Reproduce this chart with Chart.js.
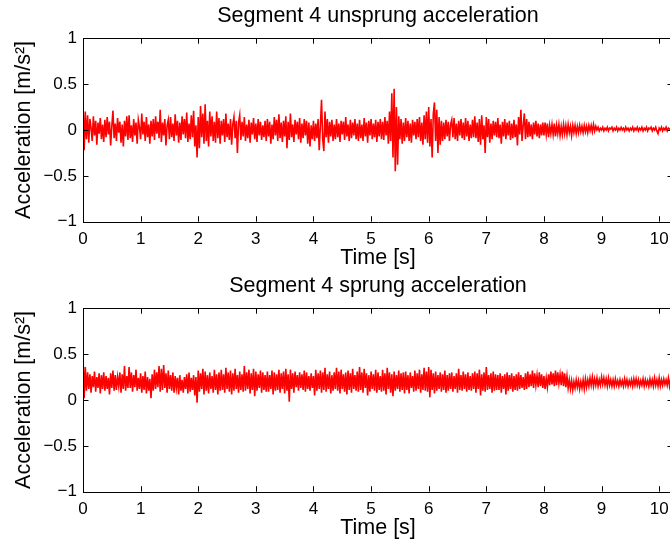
<!DOCTYPE html>
<html>
<head>
<meta charset="utf-8">
<script src="https://cdn.jsdelivr.net/npm/chart.js@4.4.1/dist/chart.umd.min.js"></script>
<style>
  body { margin: 0; background: #fff; overflow: hidden; width: 670px; height: 543px; }
  canvas { position: absolute; left: 0; }
  #topChart { top: 0; }
  #bottomChart { top: 270px; }
</style>
</head>
<body>
<canvas id="topChart" width="700" height="270"></canvas>
<canvas id="bottomChart" width="700" height="273"></canvas>
<script>
// sample interval of the recorded signals [s]
const DT = 0.02;

const xTicks = [0, 1, 2, 3, 4, 5, 6, 7, 8, 9, 10];
const yTicks = [-1, -0.5, 0, 0.5, 1];

// segment 4 unsprung acceleration (20 samples per 0.4 s)
const unsprung = [
    0.30, -0.22, 0.20, -0.10, 0.16, -0.14, 0.12, 0.02, -0.12, 0.15, -0.06, 0.10, -0.16, 0.08, -0.04, 0.13, -0.10, 0.06, -0.13, 0.11,
    -0.08, 0.14, -0.05, 0.09, -0.17, 0.04, 0.21, -0.09, 0.07, -0.12, 0.13, -0.03, 0.09, -0.14, 0.06, -0.18, 0.10, -0.07, 0.15, -0.11,
    0.16, -0.09, 0.05, -0.13, 0.12, -0.06, 0.08, -0.15, 0.11, 0.03, -0.10, 0.18, -0.05, 0.09, -0.12, 0.14, -0.08, 0.06, -0.15, 0.10,
    -0.07, 0.12, -0.11, 0.15, -0.04, 0.09, -0.09, 0.22, -0.13, 0.08, -0.06, 0.12, -0.17, 0.05, 0.11, -0.10, 0.14, -0.08, 0.07, -0.12,
    0.17, -0.06, 0.10, -0.14, 0.08, -0.11, 0.15, -0.05, 0.12, -0.09, 0.19, -0.13, 0.07, -0.10, 0.16, -0.08, 0.21, -0.18, 0.05, -0.30,
    0.14, -0.20, 0.26, -0.08, 0.18, -0.15, 0.28, -0.12, 0.10, -0.18, 0.20, -0.07, 0.15, -0.12, 0.09, -0.14, 0.20, -0.09, 0.13, -0.15,
    0.10, -0.06, 0.12, -0.13, 0.18, -0.08, 0.07, -0.11, 0.12, -0.16, 0.06, 0.14, -0.09, 0.10, -0.25, 0.08, 0.16, -0.11, 0.09, -0.07,
    0.14, -0.12, 0.06, -0.09, 0.11, -0.14, 0.08, -0.05, 0.13, -0.10, 0.07, -0.13, 0.12, -0.06, 0.09, -0.11, 0.05, -0.08, 0.10, -0.12,
    0.12, -0.07, 0.09, -0.15, 0.06, -0.10, 0.14, -0.06, 0.11, -0.12, 0.17, -0.09, 0.08, -0.13, 0.10, -0.07, 0.15, -0.20, 0.09, -0.11,
    0.18, -0.08, 0.06, -0.13, 0.11, -0.05, 0.09, -0.10, 0.13, -0.14, 0.07, -0.09, 0.12, -0.06, 0.10, -0.15, 0.08, -0.18, 0.05, -0.10,
    0.10, -0.12, 0.07, -0.09, 0.12, -0.22, 0.05, 0.33, -0.10, -0.23, 0.20, -0.08, 0.12, -0.14, 0.09, -0.07, 0.11, -0.12, 0.06, -0.10,
    0.12, -0.08, 0.07, -0.13, 0.10, -0.05, 0.09, -0.11, 0.14, -0.07, 0.06, -0.12, 0.11, -0.09, 0.08, -0.06, 0.12, -0.10, 0.07, -0.12,
    0.11, -0.09, 0.06, -0.12, 0.13, -0.07, 0.08, -0.14, 0.10, -0.06, 0.12, -0.10, 0.07, -0.08, 0.11, -0.13, 0.09, -0.07, 0.12, -0.10,
    0.09, -0.11, 0.14, -0.06, 0.10, -0.15, 0.20, -0.12, 0.40, -0.30, 0.45, -0.45, 0.25, -0.38, 0.15, -0.10, 0.12, -0.15, 0.08, -0.12,
    0.13, -0.08, 0.10, -0.12, 0.07, -0.14, 0.11, -0.06, 0.09, -0.10, 0.12, -0.08, 0.14, -0.12, 0.08, -0.16, 0.16, -0.10, 0.20, -0.14,
    0.25, -0.18, 0.12, -0.30, 0.18, 0.30, -0.12, 0.22, -0.25, 0.14, -0.16, 0.10, -0.12, 0.08, -0.10, 0.11, -0.07, 0.09, -0.12, 0.06,
    0.11, -0.08, 0.13, -0.10, 0.07, -0.12, 0.10, -0.06, 0.12, -0.09, 0.08, -0.11, 0.13, -0.07, 0.10, -0.12, 0.06, -0.09, 0.11, -0.08,
    0.15, -0.09, 0.08, -0.13, 0.12, -0.16, 0.16, -0.10, 0.05, -0.25, 0.14, -0.08, 0.12, -0.14, 0.07, -0.10, 0.10, -0.06, 0.09, -0.08,
    0.13, -0.09, 0.06, -0.15, 0.09, -0.07, 0.12, -0.10, 0.08, -0.06, 0.10, -0.11, 0.07, -0.09, 0.11, -0.08, 0.06, -0.17, 0.14, -0.05,
    0.22, -0.12, 0.05, 0.18, -0.10, 0.12, -0.08, 0.09, -0.07, 0.06, -0.10, 0.08, -0.05, 0.10, -0.07, 0.07, -0.09, 0.06, -0.06, 0.08,
    -0.06, 0.08, -0.05, 0.07, -0.08, 0.05, -0.04, 0.06, -0.05, 0.07, -0.07, 0.05, -0.04, 0.06, -0.06, 0.04, -0.05, 0.06, -0.04, 0.05,
    -0.05, 0.06, -0.03, 0.04, -0.06, 0.05, -0.03, 0.05, -0.04, 0.04, -0.03, 0.05, -0.02, 0.04, -0.03, 0.05, -0.02, 0.04, -0.03, 0.05,
    -0.01, 0.05, -0.02, 0.06, -0.01, 0.04, 0.00, 0.03, -0.01, 0.02, 0.00, 0.03, -0.01, 0.02, 0.00, 0.03, -0.01, 0.02, 0.01, 0.03,
    -0.01, 0.02, 0.00, 0.03, -0.01, 0.02, 0.00, 0.03, 0.00, 0.02, -0.01, 0.03, 0.00, 0.02, -0.01, 0.02, 0.00, 0.03, -0.01, 0.02,
    0.00, 0.03, -0.01, 0.02, 0.00, 0.03, -0.01, 0.02, 0.00, 0.03, -0.01, 0.02, 0.01, 0.03, -0.01, 0.02, 0.00, 0.03, -0.01, -0.04,
    0.02, 0.00, 0.03, -0.01, 0.02, 0.00, 0.03, -0.01, 0.02, 0.01, 0.02, 0.00
];

// segment 4 sprung acceleration (20 samples per 0.4 s)
const sprung = [
    0.50, 0.02, 0.36, 0.10, 0.30, 0.12, 0.28, 0.08, 0.26, 0.14, 0.31, 0.09, 0.25, 0.13, 0.29, 0.07, 0.27, 0.12, 0.30, 0.10,
    0.26, 0.12, 0.24, 0.06, 0.29, 0.13, 0.32, 0.10, 0.27, 0.11, 0.25, 0.15, 0.30, 0.08, 0.28, 0.12, 0.37, 0.10, 0.26, 0.13,
    0.36, 0.13, 0.30, 0.09, 0.27, 0.14, 0.33, 0.10, 0.24, 0.12, 0.29, 0.08, 0.26, 0.11, 0.31, 0.07, 0.25, 0.10, 0.23, 0.02,
    0.28, 0.10, 0.33, 0.12, 0.30, 0.14, 0.37, 0.09, 0.34, 0.11, 0.38, 0.13, 0.29, 0.08, 0.32, 0.12, 0.27, 0.10, 0.30, 0.08,
    0.26, 0.13, 0.24, 0.06, 0.27, 0.10, 0.22, 0.08, 0.25, 0.12, 0.28, 0.07, 0.30, 0.09, 0.24, 0.11, 0.27, 0.05, 0.25, -0.03,
    0.32, 0.09, 0.29, 0.12, 0.34, 0.06, 0.31, 0.10, 0.27, 0.07, 0.30, 0.12, 0.26, 0.08, 0.33, 0.11, 0.28, 0.06, 0.30, 0.10,
    0.33, 0.11, 0.28, 0.08, 0.35, 0.12, 0.30, 0.09, 0.32, 0.06, 0.29, 0.10, 0.34, 0.12, 0.27, 0.08, 0.31, 0.11, 0.28, 0.09,
    0.37, 0.10, 0.30, 0.12, 0.33, 0.07, 0.29, 0.11, 0.34, 0.04, 0.31, 0.10, 0.28, 0.13, 0.32, 0.08, 0.30, 0.11, 0.27, 0.09,
    0.31, 0.09, 0.27, 0.12, 0.32, 0.06, 0.30, 0.10, 0.28, 0.11, 0.33, 0.08, 0.29, 0.12, 0.31, 0.07, 0.34, 0.10, 0.28, -0.02,
    0.33, 0.12, 0.29, 0.08, 0.31, 0.14, 0.27, 0.10, 0.30, 0.13, 0.28, 0.11, 0.32, 0.09, 0.30, 0.12, 0.26, 0.10, 0.29, 0.13,
    0.26, 0.05, 0.33, 0.10, 0.29, 0.12, 0.32, 0.08, 0.30, 0.11, 0.35, 0.09, 0.28, 0.12, 0.31, 0.07, 0.27, 0.10, 0.30, 0.12,
    0.35, 0.10, 0.31, 0.07, 0.33, 0.12, 0.28, 0.09, 0.30, 0.06, 0.32, 0.11, 0.29, 0.08, 0.34, 0.12, 0.27, 0.10, 0.31, 0.09,
    0.36, 0.11, 0.30, 0.08, 0.34, 0.13, 0.29, 0.05, 0.27, 0.09, 0.31, 0.12, 0.28, 0.10, 0.33, 0.08, 0.30, 0.11, 0.26, 0.09,
    0.33, 0.10, 0.29, 0.06, 0.35, 0.12, 0.30, 0.08, 0.28, 0.04, 0.31, 0.10, 0.27, 0.12, 0.32, 0.09, 0.29, 0.11, 0.30, 0.07,
    0.31, 0.11, 0.27, 0.07, 0.30, 0.13, 0.26, 0.09, 0.32, 0.10, 0.29, 0.12, 0.33, 0.08, 0.28, 0.11, 0.35, 0.10, 0.31, 0.09,
    0.36, 0.03, 0.33, 0.11, 0.29, 0.07, 0.31, 0.10, 0.27, 0.12, 0.30, 0.09, 0.28, 0.11, 0.32, 0.08, 0.27, 0.10, 0.29, 0.12,
    0.30, 0.09, 0.26, 0.12, 0.29, 0.08, 0.34, 0.11, 0.27, 0.10, 0.31, 0.12, 0.28, 0.09, 0.30, 0.11, 0.26, 0.10, 0.29, 0.12,
    0.31, 0.08, 0.29, 0.12, 0.33, 0.05, 0.28, 0.10, 0.30, 0.09, 0.36, 0.11, 0.27, 0.12, 0.29, 0.08, 0.31, 0.10, 0.28, 0.11,
    0.27, 0.11, 0.29, 0.08, 0.26, 0.12, 0.28, 0.06, 0.30, 0.10, 0.27, 0.12, 0.29, 0.09, 0.26, 0.11, 0.28, 0.10, 0.30, 0.12,
    0.27, 0.13, 0.25, 0.11, 0.29, 0.12, 0.31, 0.14, 0.28, 0.15, 0.32, 0.13, 0.29, 0.16, 0.27, 0.14, 0.30, 0.15, 0.28, 0.13,
    0.26, 0.12, 0.24, 0.14, 0.28, 0.16, 0.31, 0.17, 0.29, 0.15, 0.32, 0.16, 0.30, 0.18, 0.28, 0.16, 0.31, 0.15, 0.29, 0.14,
    0.26, 0.13, 0.22, 0.12, 0.21, 0.11, 0.20, 0.13, 0.22, 0.14, 0.21, 0.12, 0.20, 0.13, 0.22, 0.12, 0.23, 0.14, 0.22, 0.15,
    0.24, 0.16, 0.25, 0.15, 0.23, 0.16, 0.24, 0.15, 0.22, 0.16, 0.25, 0.17, 0.24, 0.16, 0.23, 0.15, 0.24, 0.16, 0.22, 0.15,
    0.22, 0.15, 0.23, 0.16, 0.21, 0.15, 0.22, 0.16, 0.21, 0.15, 0.23, 0.16, 0.22, 0.15, 0.21, 0.16, 0.22, 0.15, 0.23, 0.16,
    0.23, 0.16, 0.22, 0.15, 0.21, 0.16, 0.23, 0.15, 0.22, 0.16, 0.21, 0.15, 0.23, 0.16, 0.22, 0.15, 0.24, 0.16, 0.22, 0.15,
    0.24, 0.15, 0.22, 0.16, 0.23, 0.17, 0.22, 0.16, 0.24, 0.15, 0.23, 0.16
];

const FONT = '"Liberation Sans", Arial, Helvetica, sans-serif';

// matlab style box: axes frame plus inward ticks on all four sides
const matlabBox = {
    id: 'matlabBox',
    afterDatasetsDraw(chart) {
        const ctx = chart.ctx;
        const { left, right, top, bottom } = chart.chartArea;
        const len = 5.5;
        ctx.save();
        ctx.strokeStyle = '#000';
        ctx.lineWidth = 1;
        ctx.beginPath();
        chart.scales.x.ticks.forEach(t => {
            const px = Math.round(chart.scales.x.getPixelForValue(t.value)) + 0.5;
            ctx.moveTo(px, bottom); ctx.lineTo(px, bottom - len);
            ctx.moveTo(px, top); ctx.lineTo(px, top + len);
        });
        chart.scales.y.ticks.forEach(t => {
            const py = Math.round(chart.scales.y.getPixelForValue(t.value)) + 0.5;
            ctx.moveTo(left, py); ctx.lineTo(left + len, py);
            ctx.moveTo(right, py); ctx.lineTo(right - len, py);
        });
        ctx.stroke();
        ctx.beginPath();
        ctx.rect(Math.round(left) + 0.5, Math.round(top) + 0.5,
                 Math.round(right - left), Math.round(bottom - top));
        ctx.stroke();
        ctx.restore();
    }
};

function minusLabel(value) {
    return value < 0 ? '\u2212' + Math.abs(value) : String(value);
}

function makeChart(id, title, values, axisHeight, timePad) {
    const points = values.map((v, i) => ({ x: i * DT, y: v }));
    return new Chart(document.getElementById(id), {
        type: 'line',
        data: {
            datasets: [{
                data: points,
                borderColor: '#ff0000',
                borderWidth: 1.6,
                pointRadius: 0,
                tension: 0,
                fill: false
            }]
        },
        options: {
            responsive: false,
            animation: false,
            events: [],
            layout: { padding: { left: 0, right: 27, top: 0, bottom: 0 } },
            plugins: {
                legend: { display: false },
                tooltip: { enabled: false },
                title: {
                    display: true,
                    text: title,
                    fullSize: false,
                    color: '#000',
                    font: { family: FONT, size: 21.5, weight: 'normal' },
                    padding: { top: 3, bottom: 9.4 }
                }
            },
            scales: {
                x: {
                    type: 'linear',
                    min: 0,
                    max: 10.24,
                    afterFit: s => { s.height = axisHeight; },
                    afterBuildTicks: s => { s.ticks = xTicks.map(v => ({ value: v })); },
                    grid: { display: false, drawTicks: false },
                    border: { display: false },
                    ticks: {
                        color: '#000',
                        padding: 7,
                        maxRotation: 0,
                        autoSkip: false,
                        font: { family: FONT, size: 17 },
                        callback: minusLabel
                    },
                    title: {
                        display: true,
                        text: 'Time [s]',
                        color: '#000',
                        font: { family: FONT, size: 21.5 },
                        padding: { top: 0, bottom: timePad }
                    }
                },
                y: {
                    min: -1,
                    max: 1,
                    afterFit: s => { s.width = 83; },
                    afterBuildTicks: s => { s.ticks = yTicks.map(v => ({ value: v })); },
                    grid: { display: false, drawTicks: false },
                    border: { display: false },
                    ticks: {
                        color: '#000',
                        padding: 6,
                        font: { family: FONT, size: 17 },
                        callback: minusLabel
                    },
                    title: {
                        display: true,
                        text: 'Acceleration [m/s\u00B2]',
                        color: '#000',
                        font: { family: FONT, size: 21.5 },
                        padding: { top: 11, bottom: 0 }
                    }
                }
            }
        },
        plugins: [matlabBox]
    });
}

makeChart('topChart', 'Segment 4 unsprung acceleration', unsprung, 48.3, -1);
makeChart('bottomChart', 'Segment 4 sprung acceleration', sprung, 51.3, 2);
</script>
</body>
</html>
